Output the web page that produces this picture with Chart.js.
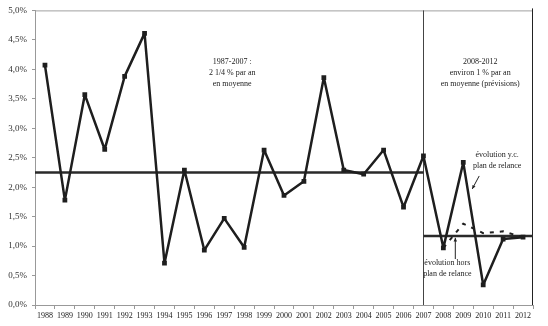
<!DOCTYPE html>
<html>
<head>
<meta charset="utf-8">
<script src="https://cdn.jsdelivr.net/npm/chart.js@4.4.0/dist/chart.umd.min.js"></script>
<style>
  html, body { margin: 0; padding: 0; background: #fff; }
  #wrap { width: 548px; height: 326px; }
</style>
</head>
<body>
<div id="wrap"><canvas id="myChart" width="548" height="326"></canvas></div>
<script>
// Years on the x axis
const years = ['1988', '1989', '1990', '1991', '1992', '1993', '1994', '1995', '1996', '1997',
               '1998', '1999', '2000', '2001', '2002', '2003', '2004', '2005', '2006', '2007',
               '2008', '2009', '2010', '2011', '2012'];

// Annual growth (%), including the stimulus plan after 2007
const growth = [4.07, 1.78, 3.57, 2.64, 3.88, 4.61, 0.71, 2.29, 0.93, 1.47,
                0.98, 2.63, 1.86, 2.10, 3.86, 2.29, 2.22, 2.63, 1.66, 2.53,
                0.97, 2.42, 0.34, 1.12, 1.15];

// Growth without the stimulus plan (forecast years only)
const growthNoPlan = [null, null, null, null, null, null, null, null, null, null,
                      null, null, null, null, null, null, null, null, null, null,
                      0.97, 1.38, 1.22, 1.25, 1.15];

// Period averages: [first year, last year, mean %]
const avgFirst = ['1988', '2007', 2.25];
const avgSecond = ['2007', '2012', 1.17];
const splitYear = '2007';

// Y axis ticks
const yMin = 0, yMax = 5, yStep = 0.5;

// Text notes: [category index, value, lines]
const notes = [
    [9.4, 4.12, ['1987-2007 :', '2 1/4 % par an', 'en moyenne']],
    [21.85, 4.12, ['2008-2012', 'environ 1 % par an', 'en moyenne (prévisions)']],
    [22.7, 2.54, ['évolution y.c.', 'plan de relance']],
    [20.2, 0.71, ['évolution hors', 'plan de relance']]
];

// Arrows: [from index, from value, to index, to value]
const arrows = [
    [21.8, 2.19, 21.45, 1.97],
    [20.6, 0.78, 20.6, 1.14]
];

const serif = 'Liberation Serif';

// Draws frame, average lines, the 2007 divider, notes and arrows
const decorations = {
    id: 'decorations',
    beforeDatasetsDraw(chart) {
        const { ctx, chartArea: ca, scales: { x, y } } = chart;
        ctx.save();
        // top frame (grey) and right frame (dark)
        ctx.lineWidth = 1;
        ctx.strokeStyle = '#a0a0a0';
        ctx.beginPath();
        ctx.moveTo(ca.left, ca.top + 0.5);
        ctx.lineTo(ca.right, ca.top + 0.5);
        ctx.stroke();
        ctx.strokeStyle = '#222';
        ctx.beginPath();
        ctx.moveTo(ca.right - 0.5, ca.top - 2);
        ctx.lineTo(ca.right - 0.5, ca.bottom);
        ctx.stroke();

        // divider at 2007
        const xs = Math.round(x.getPixelForValue(years.indexOf(splitYear))) + 0.5;
        ctx.strokeStyle = '#444';
        ctx.beginPath();
        ctx.moveTo(xs, ca.top);
        ctx.lineTo(xs, ca.bottom);
        ctx.stroke();

        // period averages
        ctx.strokeStyle = '#2a2a2a';
        ctx.lineWidth = 2.5;
        const y1 = y.getPixelForValue(avgFirst[2]);
        ctx.beginPath();
        ctx.moveTo(ca.left, y1);
        ctx.lineTo(x.getPixelForValue(years.indexOf(avgFirst[1])), y1);
        ctx.stroke();
        const y2 = y.getPixelForValue(avgSecond[2]);
        ctx.beginPath();
        ctx.moveTo(x.getPixelForValue(years.indexOf(avgSecond[0])), y2);
        ctx.lineTo(ca.right, y2);
        ctx.stroke();
        ctx.restore();
    },
    afterDatasetsDraw(chart) {
        const { ctx, scales: { x, y } } = chart;
        ctx.save();
        ctx.fillStyle = '#222';
        ctx.font = '8px "' + serif + '"';
        ctx.textAlign = 'center';
        ctx.textBaseline = 'middle';
        notes.forEach(([i, v, lines]) => {
            const cx = x.getPixelForValue(i);
            const cy = y.getPixelForValue(v);
            lines.forEach((t, k) => ctx.fillText(t, cx, cy + k * 11));
        });

        ctx.strokeStyle = '#222';
        ctx.lineWidth = 1;
        arrows.forEach(([i0, v0, i1, v1]) => {
            const x0 = x.getPixelForValue(i0), y0 = y.getPixelForValue(v0);
            const x1 = x.getPixelForValue(i1), y1 = y.getPixelForValue(v1);
            const ang = Math.atan2(y1 - y0, x1 - x0);
            ctx.beginPath();
            ctx.moveTo(x0, y0);
            ctx.lineTo(x1, y1);
            ctx.stroke();
            ctx.beginPath();
            ctx.moveTo(x1, y1);
            ctx.lineTo(x1 - 4 * Math.cos(ang - 0.45), y1 - 4 * Math.sin(ang - 0.45));
            ctx.lineTo(x1 - 4 * Math.cos(ang + 0.45), y1 - 4 * Math.sin(ang + 0.45));
            ctx.closePath();
            ctx.fill();
        });
        ctx.restore();
    }
};

let ctx = document.getElementById('myChart').getContext('2d');
let myChart = new Chart(ctx, {
    type: 'line',
    data: {
        labels: years,
        datasets: [
            {
                label: 'évolution y.c. plan de relance',
                data: growth,
                borderColor: '#1e1e1e',
                backgroundColor: '#1e1e1e',
                borderWidth: 2.5,
                borderJoinStyle: 'bevel',
                pointStyle: 'rect',
                pointRadius: 1.6,
                tension: 0,
                fill: false
            },
            {
                label: 'évolution hors plan de relance',
                data: growthNoPlan,
                borderColor: '#1e1e1e',
                backgroundColor: '#1e1e1e',
                borderWidth: 2,
                borderDash: [4, 6],
                pointRadius: 0,
                tension: 0,
                fill: false
            }
        ]
    },
    options: {
        responsive: false,
        animation: false,
        devicePixelRatio: 1,
        layout: { padding: { top: 10, right: 15, left: 0, bottom: 0 } },
        plugins: {
            legend: { display: false },
            tooltip: { enabled: false }
        },
        scales: {
            x: {
                offset: true,
                afterFit: (scale) => { scale.height = 21; },
                grid: {
                    offset: true,
                    drawOnChartArea: false,
                    tickLength: 4,
                    color: '#999'
                },
                border: { color: '#999' },
                ticks: {
                    autoSkip: false,
                    maxRotation: 0,
                    padding: 2,
                    color: '#222',
                    font: { family: serif, size: 8 }
                }
            },
            y: {
                min: yMin,
                max: yMax,
                afterFit: (scale) => { scale.width = 35; },
                grid: {
                    drawOnChartArea: false,
                    tickLength: 3,
                    color: '#999'
                },
                border: { color: '#999' },
                ticks: {
                    stepSize: yStep,
                    padding: 5,
                    color: '#333',
                    font: { family: serif, size: 9 },
                    callback: function (value) {
                        return value.toFixed(1).replace('.', ',') + '%';
                    }
                }
            }
        }
    },
    plugins: [decorations]
});
</script>
</body>
</html>
